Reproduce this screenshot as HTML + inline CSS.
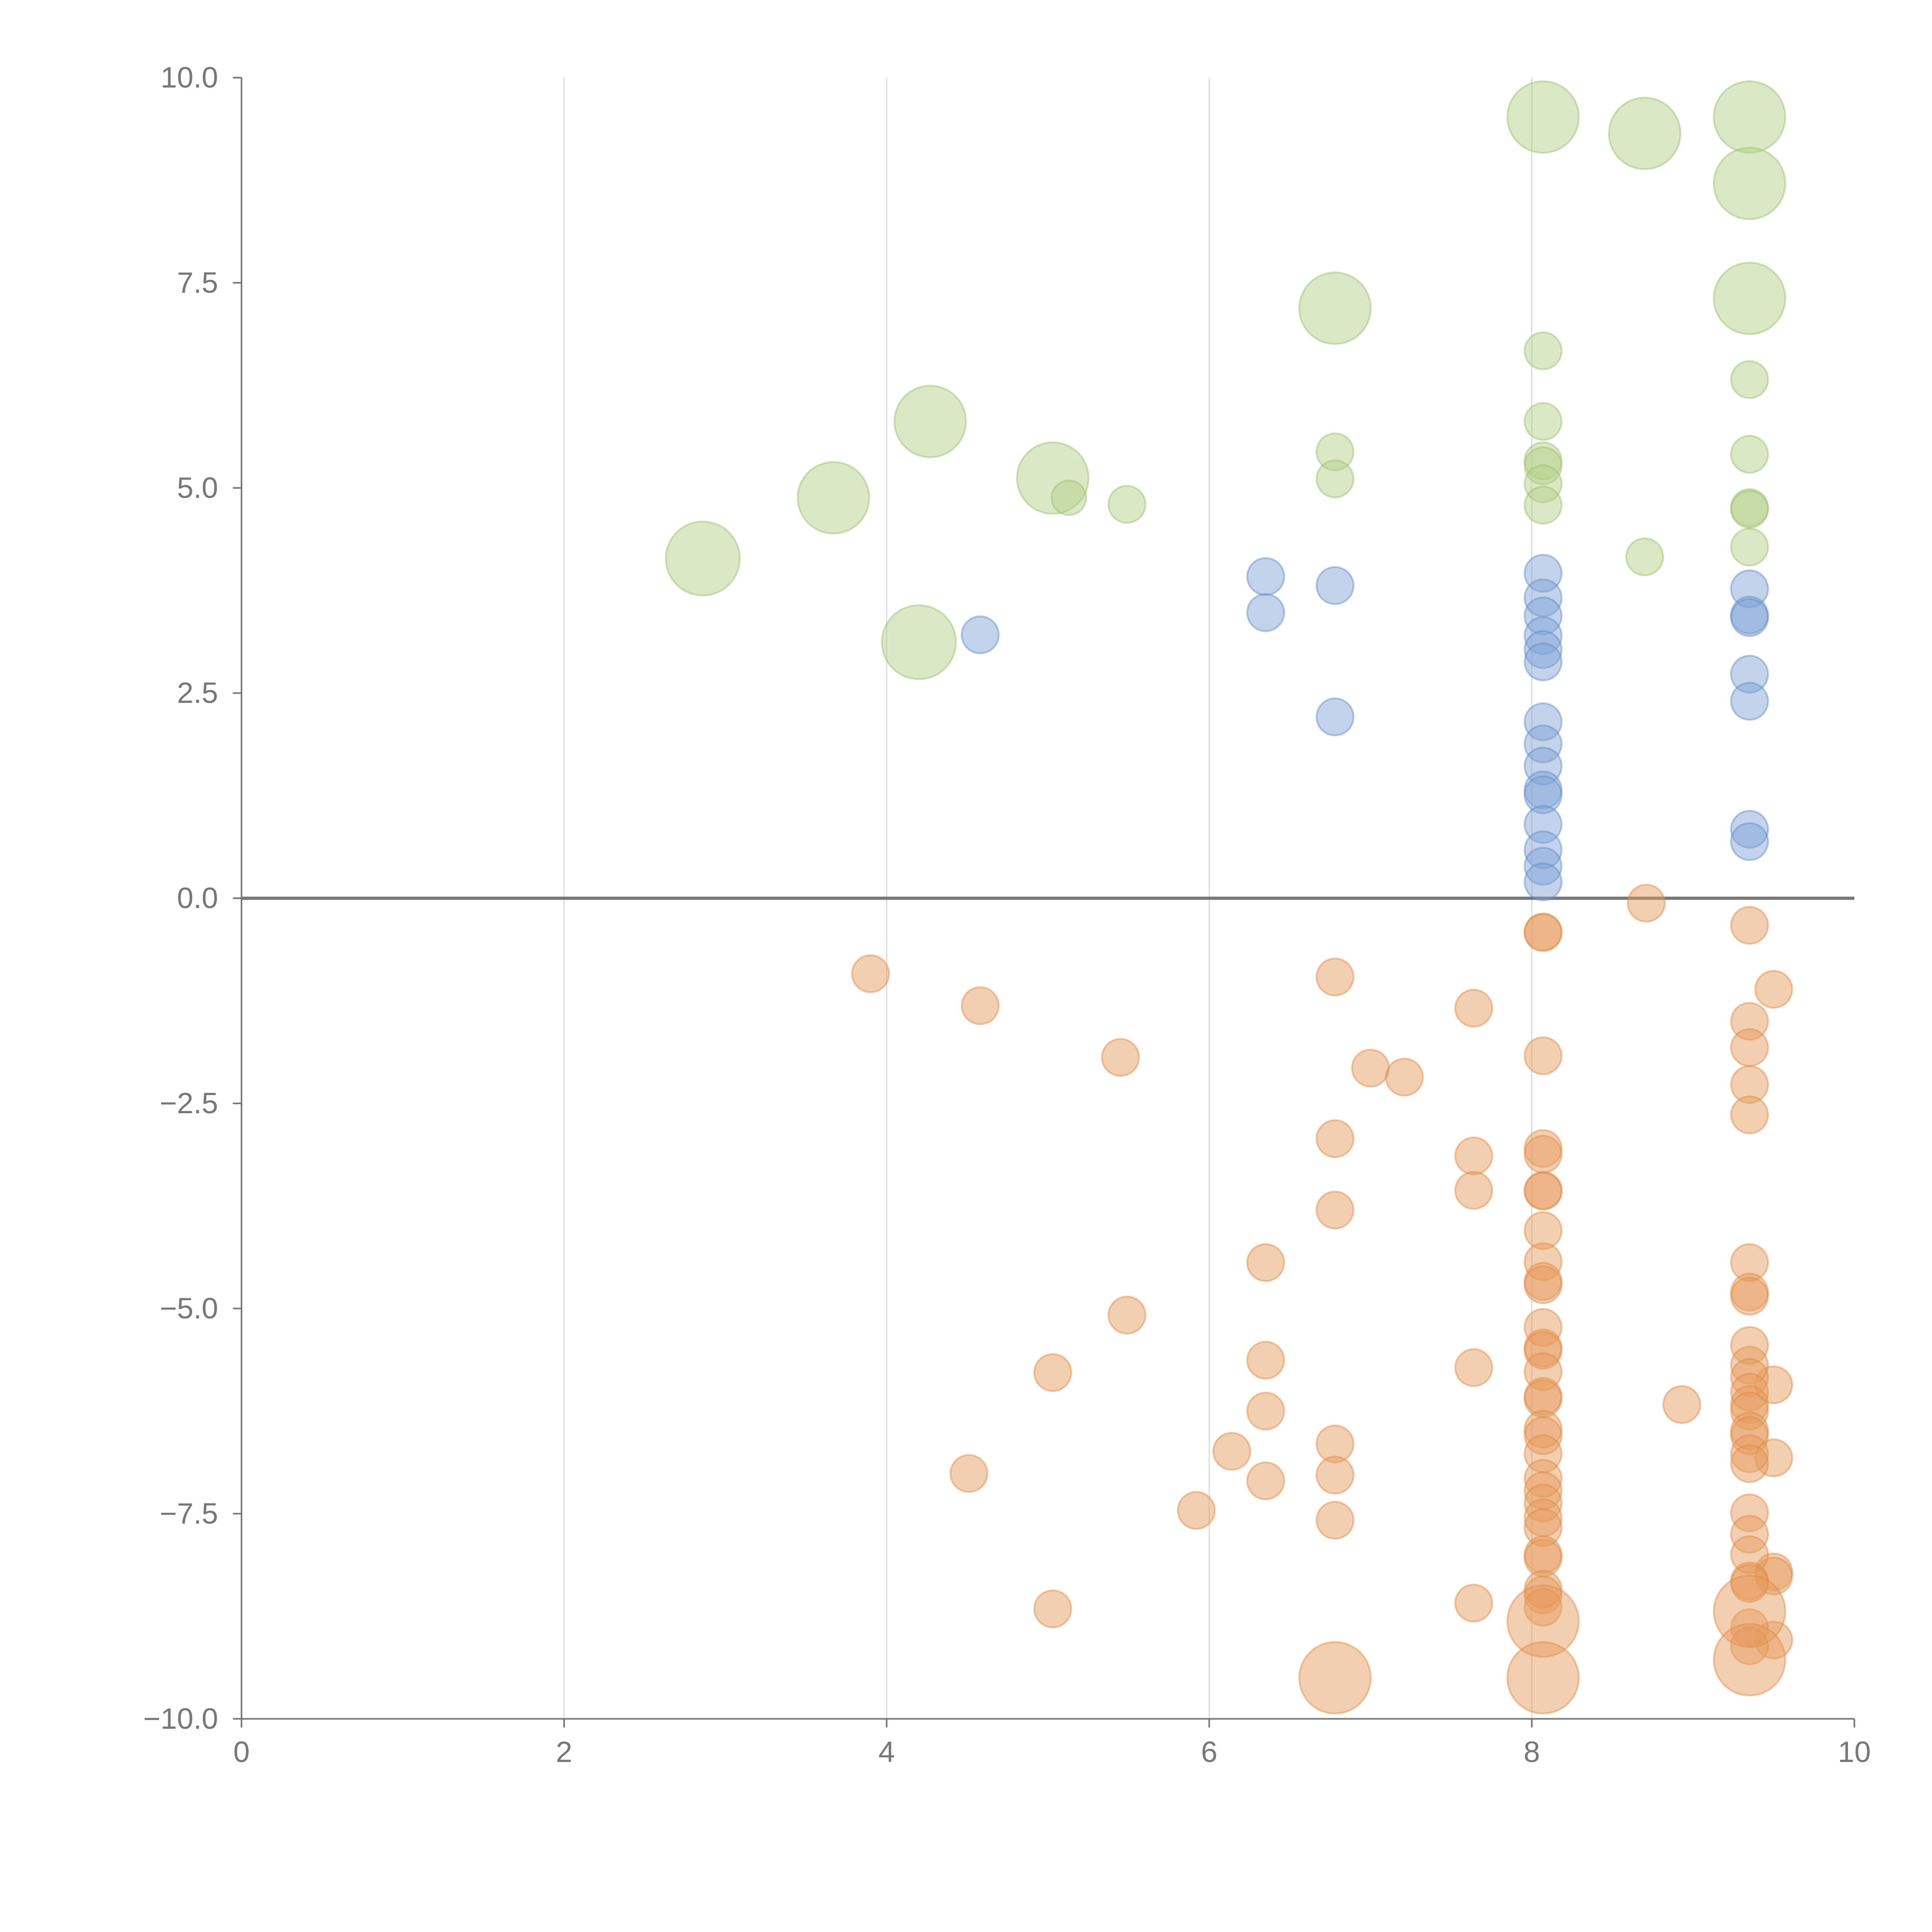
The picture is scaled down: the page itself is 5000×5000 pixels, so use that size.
<!DOCTYPE html>
<html><head><meta charset="utf-8">
<style>
html,body{margin:0;padding:0;background:#fff;}
svg{display:block;}
text{font-family:"Liberation Sans",Arial,sans-serif;fill:#777;}
</style></head>
<body>
<svg id="chart" width="5000" height="5000" viewBox="0 0 1568 1568" xmlns="http://www.w3.org/2000/svg">
<g id="grid"></g>
<g id="axes"></g>
<g id="marks"></g>
</svg>
<script>
// ---- data ----
const greenX = [2.86,3.67,4.27,4.20,5.03,5.13,5.49,6.78,6.78,6.78,8.07,8.07,8.07,8.07,8.07,8.07,8.07,8.70,8.70,9.35,9.35,9.35,9.35,9.35,9.35,9.35,9.35];
const greenY = [4.14,4.88,5.81,3.12,5.12,4.88,4.80,7.19,5.44,5.11,9.52,6.67,5.81,5.33,5.27,5.05,4.79,9.32,4.16,9.52,8.71,7.31,6.32,5.41,4.76,4.74,4.28];
const greenR = [30,29,29,30,29,14,15,29,15,15,29,15,15,15,15,15,15,29,15,29,29,29,15,15,15,15,15];

const blueX = [4.58,6.35,6.35,6.78,6.78,
 8.07,8.07,8.07,8.07,8.07,8.07,8.07,8.07,8.07,8.07,8.07,8.07,8.07,8.07,8.07,
 9.35,9.35,9.35,9.35,9.35,9.35,9.35];
const blueY = [3.21,3.92,3.48,3.81,2.21,
 3.96,3.66,3.44,3.20,3.03,2.88,2.15,1.88,1.61,1.32,1.26,0.90,0.59,0.39,0.20,
 3.77,3.45,3.42,2.73,2.40,0.84,0.69];

const orangeX = [3.90,4.58,4.51,5.45,5.49,5.03,5.03,5.92,6.14,6.35,6.35,6.35,6.35,6.78,6.78,6.78,6.78,6.78,6.78,6.78,7.00,7.21,7.64,7.64,7.64,7.64,7.64,8.71,8.93,9.50,9.50,9.50,9.50,9.50,9.50,
 8.07,8.07,8.07,8.07,8.07,8.07,8.07,8.07,8.07,8.07,8.07,8.07,8.07,8.07,8.07,8.07,8.07,8.07,8.07,8.07,8.07,8.07,8.07,8.07,8.07,8.07,8.07,8.07,8.07,8.07,8.07,8.07,
 9.35,9.35,9.35,9.35,9.35,9.35,9.35,9.35,9.35,9.35,9.35,9.35,9.35,9.35,9.35,9.35,9.35,9.35,9.35,9.35,9.35,9.35,9.35,9.35,9.35,9.35,9.35];
const orangeY = [-0.92,-1.31,-7.01,-1.94,-5.08,-5.78,-8.66,-7.46,-6.74,-4.44,-5.63,-6.25,-7.10,-0.96,-2.93,-3.80,-6.65,-7.03,-7.58,-9.50,-2.07,-2.18,-1.34,-3.14,-3.56,-5.72,-8.59,-0.06,-6.17,-1.11,-5.93,-6.82,-8.21,-8.26,-9.04,
 -0.41,-0.42,-1.92,-3.05,-3.12,-3.56,-3.57,-4.05,-4.43,-4.67,-4.71,-5.23,-5.48,-5.51,-5.77,-6.07,-6.10,-6.47,-6.55,-6.77,-7.07,-7.22,-7.37,-7.55,-7.67,-8.00,-8.04,-8.42,-8.49,-8.64,-8.81,-9.50,
 -0.33,-1.50,-1.82,-2.27,-2.64,-4.44,-4.80,-4.85,-5.45,-5.69,-5.84,-6.02,-6.17,-6.25,-6.49,-6.55,-6.77,-6.89,-7.49,-7.75,-8.00,-8.32,-8.35,-8.89,-9.11,-8.69,-9.28];
const orangeR = [15,15,15,15,15,15,15,15,15,15,15,15,15,15,15,15,15,15,15,29,15,15,15,15,15,15,15,15,15,15,15,15,15,15,15,
 15,15,15,15,15,15,15,15,15,15,15,15,15,15,15,15,15,15,15,15,15,15,15,15,15,15,15,15,15,15,29,29,
 15,15,15,15,15,15,15,15,15,15,15,15,15,15,15,15,15,15,15,15,15,15,15,15,15,29,29];

const xTicks = [0,2,4,6,8,10];
const xTickLabels = ["0","2","4","6","8","10"];
const yTicks = [10,7.5,5,2.5,0,-2.5,-5,-7.5,-10];
const yTickLabels = ["10.0","7.5","5.0","2.5","0.0","\u22122.5","\u22125.0","\u22127.5","\u221210.0"];

// ---- scales ----
const L=196,R=1505,T=63,B=1395;
const sx = v => L + (v-0)/(10-0)*(R-L);
const sy = v => B - (v+10)/20*(B-T);
const NS="http://www.w3.org/2000/svg";
function mk(tag, parent, attrs){const e=document.createElementNS(NS,tag);for(const k in attrs)e.setAttribute(k,attrs[k]);parent.appendChild(e);return e;}

const grid=document.getElementById('grid'), axes=document.getElementById('axes'), marks=document.getElementById('marks');
xTicks.forEach((t,i)=>{
  if(t>0 && t<10){
    const g=mk('line',grid,{x1:sx(t),x2:sx(t),y1:T,y2:B,stroke:'#dcdcdc','stroke-width':1});
    
    
  }
  const tk=mk('line',axes,{x1:sx(t),x2:sx(t),y1:B,y2:B+7,stroke:'#777','stroke-width':1.3});
  
  
  const lb=mk('text',axes,{x:sx(t),y:B+35,'text-anchor':'middle','font-size':24});
  lb.textContent=xTickLabels[i];
  
  
});
yTicks.forEach((t,i)=>{
  const tk=mk('line',axes,{x1:L-7,x2:L,y1:sy(t),y2:sy(t),stroke:'#777','stroke-width':1.3});
  
  
  const lb=mk('text',axes,{x:L-19,y:sy(t)+8,'text-anchor':'end','font-size':24});
  lb.textContent=yTickLabels[i];
  
  
});
const ya=mk('line',axes,{x1:L,x2:L,y1:T,y2:B,stroke:'#777','stroke-width':1.3});


const xa=mk('line',axes,{x1:L,x2:R,y1:B,y2:B,stroke:'#777','stroke-width':1.3});


const zl=mk('line',axes,{x1:L,x2:R,y1:sy(0),y2:sy(0),stroke:'#777','stroke-width':2.6});



function drawSeries(xs,ys,rs,fill,stroke,name){
  xs.forEach((x,i)=>{
    const r = rs ? rs[i] : 15;
    const c=mk('circle',marks,{cx:sx(x),cy:sy(ys[i]),r:r,fill:fill,'fill-opacity':0.48,stroke:stroke,'stroke-opacity':0.45,'stroke-width':1.5});
    
    
  });
}
drawSeries(orangeX,orangeY,orangeR,'#e59a5c','#e08a45','orange-bubble');
drawSeries(blueX,blueY,null,'#7fa3d6','#5f8bc8','blue-bubble');
drawSeries(greenX,greenY,greenR,'#b3cf85','#9cbf6c','green-bubble');
</script>
</body></html>
